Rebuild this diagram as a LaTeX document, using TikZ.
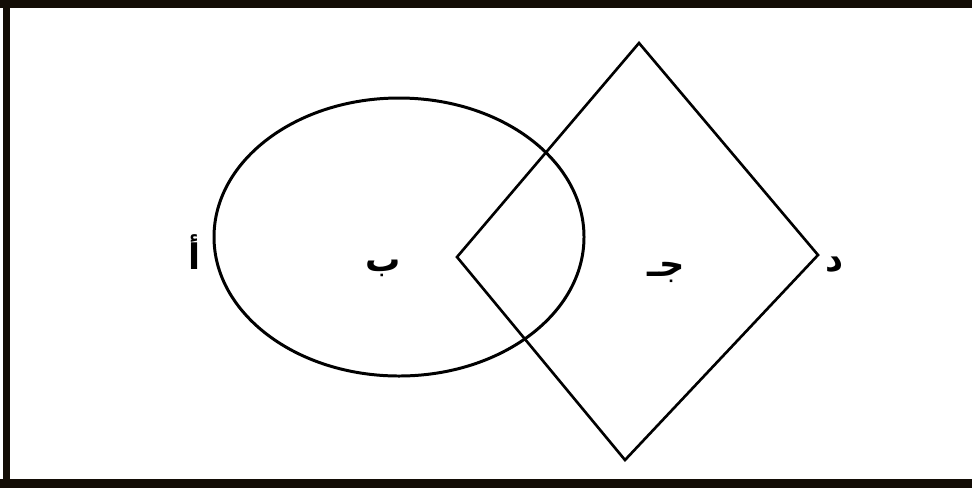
\documentclass[tikz,border=0pt]{standalone}
\usepackage{fontspec}
\usepackage{tikz}
\usetikzlibrary{positioning}
\newfontfamily\arabicfont[Script=Arabic]{DejaVu Sans}
\TeXXeTstate=1

\begin{document}
\begin{tikzpicture}[
  x=0.02cm, y=-0.02cm,
  shape line/.style={draw=black, line width=1.5pt},
  frame/.style={fill=black!90!brown, draw=none},
  lbl/.style={font=\arabicfont\bfseries\fontsize{20}{20}\selectfont, inner sep=0pt}
]
\useasboundingbox (0,0) rectangle (972,488);

% frame of the scan
\fill[frame] (0,0) rectangle (972,8);
\fill[frame] (0,479) rectangle (972,488);
\fill[frame] (3,0) rectangle (10,488);

% circle and rhombus
\draw[shape line, line width=1.7pt] (399,237) ellipse [x radius=185, y radius=139];
\coordinate (dtop) at (639,43);
\coordinate (dright) at (818,255);
\coordinate (dbottom) at (625,460);
\coordinate (dleft) at (457,257);
\draw[shape line, line join=miter] (dtop) -- (dright) -- (dbottom) -- (dleft) -- cycle;

% labels
\node[lbl] (alif) at (195,252) {\beginR أ\endR};
\node[lbl] (ba) at (383,268) {\beginR ب\endR};
\node[lbl] (jim) at (666,272) {\beginR جـ\endR};
\node[lbl] (dal) at (834,265) {\beginR د\endR};
\end{tikzpicture}
\end{document}
